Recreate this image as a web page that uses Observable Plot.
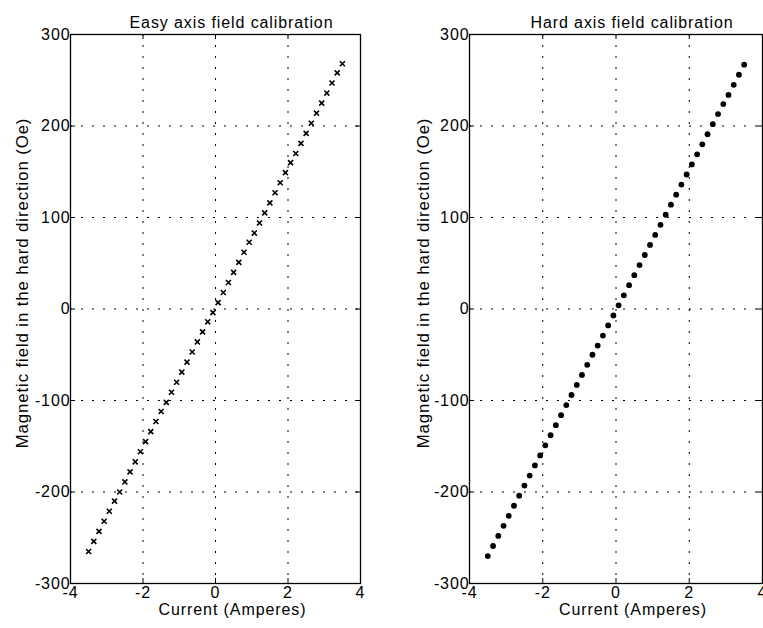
<!DOCTYPE html>
<html>
<head>
<meta charset="utf-8">
<script src="https://cdn.jsdelivr.net/npm/d3@7"></script>
<script src="https://cdn.jsdelivr.net/npm/@observablehq/plot@0.6"></script>
<style>
  html, body { margin: 0; padding: 0; background: #fff; }
  #wrap { display: flex; flex-direction: row; width: 763px; height: 628px; overflow: hidden; }
</style>
</head>
<body>
<div id="wrap"></div>
<script>
// ---- data ----
const currentEasy = [-3.5,-3.357,-3.214,-3.071,-2.929,-2.786,-2.643,-2.5,-2.357,-2.214,-2.071,-1.929,-1.786,-1.643,-1.5,-1.357,-1.214,-1.071,-0.929,-0.786,-0.643,-0.5,-0.357,-0.214,-0.071,0.071,0.214,0.357,0.5,0.643,0.786,0.929,1.071,1.214,1.357,1.5,1.643,1.786,1.929,2.071,2.214,2.357,2.5,2.643,2.786,2.929,3.071,3.214,3.357,3.5];
const fieldEasy = [-265,-254,-243,-232,-221,-210,-200,-189,-178,-167,-156,-145,-134,-123,-112,-102,-91,-80,-69,-58,-47,-36,-25,-14,-4,7,18,29,40,51,62,73,83,94,105,116,127,138,149,160,170,181,192,203,214,225,236,247,258,268];
const currentHard = [-3.5,-3.357,-3.214,-3.071,-2.929,-2.786,-2.643,-2.5,-2.357,-2.214,-2.071,-1.929,-1.786,-1.643,-1.5,-1.357,-1.214,-1.071,-0.929,-0.786,-0.643,-0.5,-0.357,-0.214,-0.071,0.071,0.214,0.357,0.5,0.643,0.786,0.929,1.071,1.214,1.357,1.5,1.643,1.786,1.929,2.071,2.214,2.357,2.5,2.643,2.786,2.929,3.071,3.214,3.357,3.5];
const fieldHard = [-270,-259,-248,-237,-226,-215,-204,-193,-182,-171,-160,-149,-138,-127,-116,-105,-94,-83,-72,-61,-50,-40,-29,-18,-7,4,15,26,37,48,59,70,81,92,103,114,125,136,147,158,169,180,191,202,213,224,234,245,256,267];
const xTicks = [-4,-2,0,2,4];
const yTicks = [-300,-200,-100,0,100,200,300];
const titles = ["Easy axis field calibration", "Hard axis field calibration"];
const xLabel = "Current (Amperes)";
const yLabel = "Magnetic field in the hard direction (Oe)";

const H = 628, MT = 34, MB = 45;
const FONT = "font-family:'Liberation Sans',Arial,Helvetica,sans-serif;font-size:16px;letter-spacing:0.9px;color:#000;background:#fff;overflow:visible;";
const fmt = d => String(d);

function panel({width, mL, mR, xs, ys, title, marker, labelDx}) {
  const pw = width - mL - mR, ph = H - MT - MB;
  const data = xs.map((x, i) => ({x, y: ys[i]}));
  const pts = marker === "x"
    ? Plot.dot(data, {x: "x", y: "y", symbol: "times", r: 2.4, stroke: "#000", strokeWidth: 1.6})
    : Plot.dot(data, {x: "x", y: "y", symbol: "circle", r: 2.9, fill: "#000", stroke: "none"});
  return Plot.plot({
    width, height: H,
    marginTop: MT, marginBottom: MB, marginLeft: mL, marginRight: mR,
    style: FONT,
    x: {domain: [-4, 4]},
    y: {domain: [-300, 300]},
    marks: [
      Plot.ruleX(xTicks, {x: d => d, stroke: "#000", strokeWidth: 1, strokeDasharray: "2,9"}),
      Plot.ruleY(yTicks, {y: d => d, stroke: "#000", strokeWidth: 1, strokeDasharray: "2,9"}),
      Plot.tickX(xTicks, {x: d => d, insetTop: ph - 5, stroke: "#000"}),
      Plot.tickX(xTicks, {x: d => d, insetBottom: ph - 5, stroke: "#000"}),
      Plot.tickY(yTicks, {y: d => d, insetRight: pw - 5, stroke: "#000"}),
      Plot.tickY(yTicks, {y: d => d, insetLeft: pw - 5, stroke: "#000"}),
      Plot.frame({stroke: "#000", strokeWidth: 1.3}),
      Plot.axisX(xTicks, {tickSize: 0, tickPadding: 3, label: null, fill: "#000", tickFormat: fmt}),
      Plot.axisY(yTicks, {tickSize: 0, tickPadding: 0, label: null, fill: "#000", tickFormat: fmt}),
      pts,
      Plot.text([title], {text: d => d, frameAnchor: "top", dy: -18, dx: 16, fill: "#000"}),
      Plot.text([xLabel], {text: d => d, frameAnchor: "bottom", dy: 31, dx: 17, fill: "#000"}),
      Plot.text([yLabel], {text: d => d, frameAnchor: "left", textAnchor: "middle", rotate: -90, dx: labelDx, dy: -26, fontSize: 16.8, fill: "#000"})
    ]
  });
}

const wrap = document.getElementById("wrap");
wrap.appendChild(panel({width: 381, mL: 70, mR: 21, xs: currentEasy, ys: fieldEasy, title: titles[0], marker: "x", labelDx: -48}));
wrap.appendChild(panel({width: 382, mL: 88, mR: 1, xs: currentHard, ys: fieldHard, title: titles[1], marker: "o", labelDx: -46}));
</script>
</body>
</html>
